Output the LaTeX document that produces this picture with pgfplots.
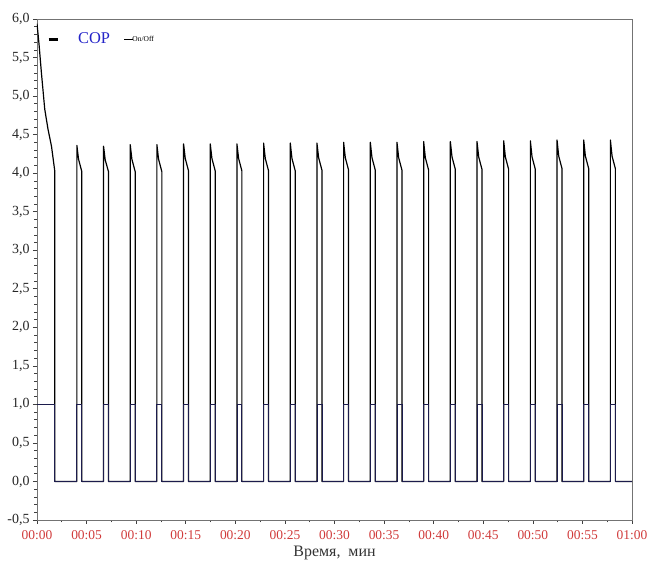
\documentclass[border=0pt]{standalone}
\usepackage{pgfplots}
\pgfplotsset{compat=1.18}
\usepackage{fontspec}
\setmainfont{Liberation Serif}
\definecolor{navy}{HTML}{1C1C4C}
\definecolor{ticred}{HTML}{D03A3A}
\definecolor{copblue}{HTML}{2424C8}
\begin{document}
\begin{tikzpicture}
\begin{axis}[
  scale only axis, width=595bp, height=501bp,
  xmin=0, xmax=60, ymin=-0.5, ymax=6,
  xtick={0,5,10,15,20,25,30,35,40,45,50,55,60},
  xticklabels={00:00,00:05,00:10,00:15,00:20,00:25,00:30,00:35,00:40,00:45,00:50,00:55,01:00},
  minor x tick num=1,
  ytick={-0.5,0,0.5,1,1.5,2,2.5,3,3.5,4,4.5,5,5.5,6},
  minor y tick num=4,
  tick align=outside, xtick pos=bottom, ytick pos=left,
  major tick length=4bp, minor tick length=2.5bp,
  tick style={black!75, line width=0.6pt},
  axis line style={black!55, line width=0.6pt},
  x tick label style={text=ticred, font=\fontsize{13.5}{15}\selectfont, yshift=-3bp},
  y tick label style={font=\fontsize{14}{16}\selectfont, text=black!85},
  yticklabel style={/pgf/number format/.cd, use comma, fixed, fixed zerofill, precision=1, assume math mode=true},
  xlabel={Время,\ \ мин},
  xlabel style={font=\fontsize{16}{18}\selectfont, text=black!80, yshift=0bp},
  legend style={at={(axis cs:1.0,5.74)}, anchor=west, draw=none, fill=none,
    legend columns=2, inner sep=0pt,
    /tikz/every even column/.append style={column sep=12bp}},
  legend cell align=left,
]
\addplot[black, line width=1.2pt, line join=round,
  legend image code/.code={\draw[black,line width=3pt] (0bp,0bp)--(9bp,0bp);}]
coordinates {
(0,5.94) (0.2,5.68) (0.44,5.31) (0.78,4.83) (1.11,4.57) (1.46,4.35) (1.79,4.03) (1.79,0)
(4.02,0)(4.02,4.36)(4.19,4.18)(4.52,4.02)(4.52,0)
(6.71,0)(6.71,4.35)(6.88,4.17)(7.21,4.02)(7.21,0)
(9.40,0)(9.40,4.37)(9.57,4.18)(9.90,4.02)(9.90,0)
(12.09,0)(12.09,4.37)(12.26,4.18)(12.59,4.02)(12.59,0)
(14.78,0)(14.78,4.38)(14.95,4.19)(15.28,4.03)(15.28,0)
(17.47,0)(17.47,4.38)(17.64,4.19)(17.97,4.03)(17.97,0)
(20.16,0)(20.16,4.38)(20.33,4.19)(20.66,4.03)(20.66,0)
(22.85,0)(22.85,4.39)(23.02,4.19)(23.35,4.03)(23.35,0)
(25.54,0)(25.54,4.39)(25.71,4.19)(26.04,4.03)(26.04,0)
(28.23,0)(28.23,4.39)(28.40,4.20)(28.73,4.04)(28.73,0)
(30.92,0)(30.92,4.40)(31.09,4.20)(31.42,4.04)(31.42,0)
(33.61,0)(33.61,4.40)(33.78,4.20)(34.11,4.04)(34.11,0)
(36.30,0)(36.30,4.40)(36.47,4.20)(36.80,4.04)(36.80,0)
(38.99,0)(38.99,4.41)(39.16,4.20)(39.49,4.04)(39.49,0)
(41.68,0)(41.68,4.41)(41.85,4.21)(42.18,4.05)(42.18,0)
(44.37,0)(44.37,4.41)(44.54,4.21)(44.87,4.05)(44.87,0)
(47.06,0)(47.06,4.42)(47.23,4.21)(47.56,4.05)(47.56,0)
(49.75,0)(49.75,4.42)(49.92,4.21)(50.25,4.05)(50.25,0)
(52.44,0)(52.44,4.43)(52.61,4.22)(52.94,4.06)(52.94,0)
(55.13,0)(55.13,4.43)(55.30,4.22)(55.63,4.06)(55.63,0)
(57.82,0)(57.82,4.43)(57.99,4.22)(58.32,4.06)(58.32,0)
(60,0)
};
\addlegendentry{\hspace{17bp}\textcolor{copblue}{\fontsize{16.5}{18}\selectfont COP}}
\addplot[navy, line width=0.8pt,
  legend image code/.code={\draw[black,line width=0.4pt] (0bp,0bp)--(9bp,0bp);}]
coordinates {
(0,1)(1.79,1)(1.79,0)
(4.02,0)(4.02,1)(4.52,1)(4.52,0)
(6.71,0)(6.71,1)(7.21,1)(7.21,0)
(9.40,0)(9.40,1)(9.90,1)(9.90,0)
(12.09,0)(12.09,1)(12.59,1)(12.59,0)
(14.78,0)(14.78,1)(15.28,1)(15.28,0)
(17.47,0)(17.47,1)(17.97,1)(17.97,0)
(20.16,0)(20.16,1)(20.66,1)(20.66,0)
(22.85,0)(22.85,1)(23.35,1)(23.35,0)
(25.54,0)(25.54,1)(26.04,1)(26.04,0)
(28.23,0)(28.23,1)(28.73,1)(28.73,0)
(30.92,0)(30.92,1)(31.42,1)(31.42,0)
(33.61,0)(33.61,1)(34.11,1)(34.11,0)
(36.30,0)(36.30,1)(36.80,1)(36.80,0)
(38.99,0)(38.99,1)(39.49,1)(39.49,0)
(41.68,0)(41.68,1)(42.18,1)(42.18,0)
(44.37,0)(44.37,1)(44.87,1)(44.87,0)
(47.06,0)(47.06,1)(47.56,1)(47.56,0)
(49.75,0)(49.75,1)(50.25,1)(50.25,0)
(52.44,0)(52.44,1)(52.94,1)(52.94,0)
(55.13,0)(55.13,1)(55.63,1)(55.63,0)
(57.82,0)(57.82,1)(58.32,1)(58.32,0)
(60,0)
};
\addlegendentry{\hspace{-3bp}\raisebox{-2bp}{\fontsize{7.5}{8}\selectfont On/Off}}
\end{axis}
\pgfresetboundingbox
\useasboundingbox ([xshift=-37bp,yshift=-42bp]current axis.south west) rectangle ([xshift=16bp,yshift=19bp]current axis.north east);
\end{tikzpicture}
\end{document}
